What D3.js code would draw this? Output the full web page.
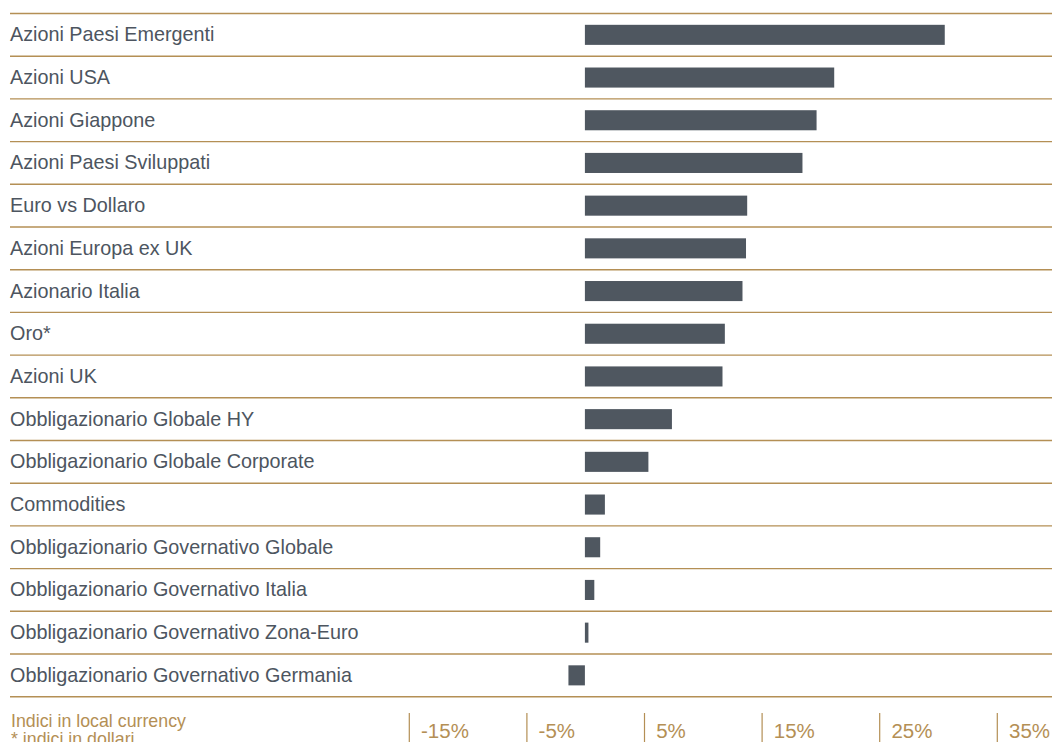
<!DOCTYPE html>
<html>
<head>
<meta charset="utf-8">
<script src="https://cdn.jsdelivr.net/npm/d3@7"></script>
<style>
  html, body { margin: 0; padding: 0; background: #ffffff; }
  svg { display: block; }
  text { font-family: "Liberation Sans", Arial, Helvetica, sans-serif; }
</style>
</head>
<body>
<svg id="chart" width="1056" height="742"></svg>
<script>
const categories = [
  "Azioni Paesi Emergenti",
  "Azioni USA",
  "Azioni Giappone",
  "Azioni Paesi Sviluppati",
  "Euro vs Dollaro",
  "Azioni Europa ex UK",
  "Azionario Italia",
  "Oro*",
  "Azioni UK",
  "Obbligazionario Globale HY",
  "Obbligazionario Globale Corporate",
  "Commodities",
  "Obbligazionario Governativo Globale",
  "Obbligazionario Governativo Italia",
  "Obbligazionario Governativo Zona-Euro",
  "Obbligazionario Governativo Germania"
];
const values = [30.6, 21.2, 19.7, 18.5, 13.8, 13.7, 13.4, 11.9, 11.7, 7.4, 5.4, 1.7, 1.3, 0.8, 0.3, -1.4];
const tickValues = [-15, -5, 5, 15, 25, 35];
const tickLabels = ["-15%", "-5%", "5%", "15%", "25%", "35%"];
const footnotes = ["Indici in local currency", "* indici in dollari"];

const gold = "#b48f55";
const barColor = "#4f5760";
const textColor = "#4d5560";

const svg = d3.select("#chart");

const x = d3.scaleLinear().domain([-15, 35]).range([408.5, 996.5]);
const y = d3.scaleBand().domain(categories).range([13.5, 696.7])
  .paddingInner(0.53).paddingOuter(0.265);
const step = y.step();

// separator lines
const lineYs = d3.range(categories.length + 1).map(i => 13.5 + i * step);
svg.append("g").selectAll("line").data(lineYs).join("line")
  .attr("x1", 10).attr("x2", 1052)
  .attr("y1", d => d).attr("y2", d => d)
  .attr("stroke", gold).attr("stroke-width", 1.4);

// labels
svg.append("g").selectAll("text").data(categories).join("text")
  .attr("x", 10)
  .attr("y", d => y(d) + y.bandwidth() / 2 + 6.5)
  .attr("font-size", 19.8)
  .attr("fill", textColor)
  .text(d => d);

// bars
svg.append("g").selectAll("rect").data(values).join("rect")
  .attr("x", d => Math.min(x(0), x(d)))
  .attr("width", d => Math.abs(x(d) - x(0)))
  .attr("y", (d, i) => y(categories[i]))
  .attr("height", y.bandwidth())
  .attr("fill", barColor);

// bottom axis ticks
const axis = svg.append("g");
axis.selectAll("line").data(tickValues).join("line")
  .attr("x1", d => x(d) + 0.8).attr("x2", d => x(d) + 0.8)
  .attr("y1", 713).attr("y2", 742)
  .attr("stroke", gold).attr("stroke-width", 1.2);
axis.selectAll("text").data(tickValues).join("text")
  .attr("x", d => x(d) + 12.5)
  .attr("y", 738)
  .attr("font-size", 20.5)
  .attr("fill", gold)
  .text((d, i) => tickLabels[i]);

// footnotes
svg.append("g").selectAll("text").data(footnotes).join("text")
  .attr("x", 11)
  .attr("y", (d, i) => 726.5 + i * 18)
  .attr("font-size", 17.8)
  .attr("fill", gold)
  .text(d => d);
</script>
</body>
</html>
